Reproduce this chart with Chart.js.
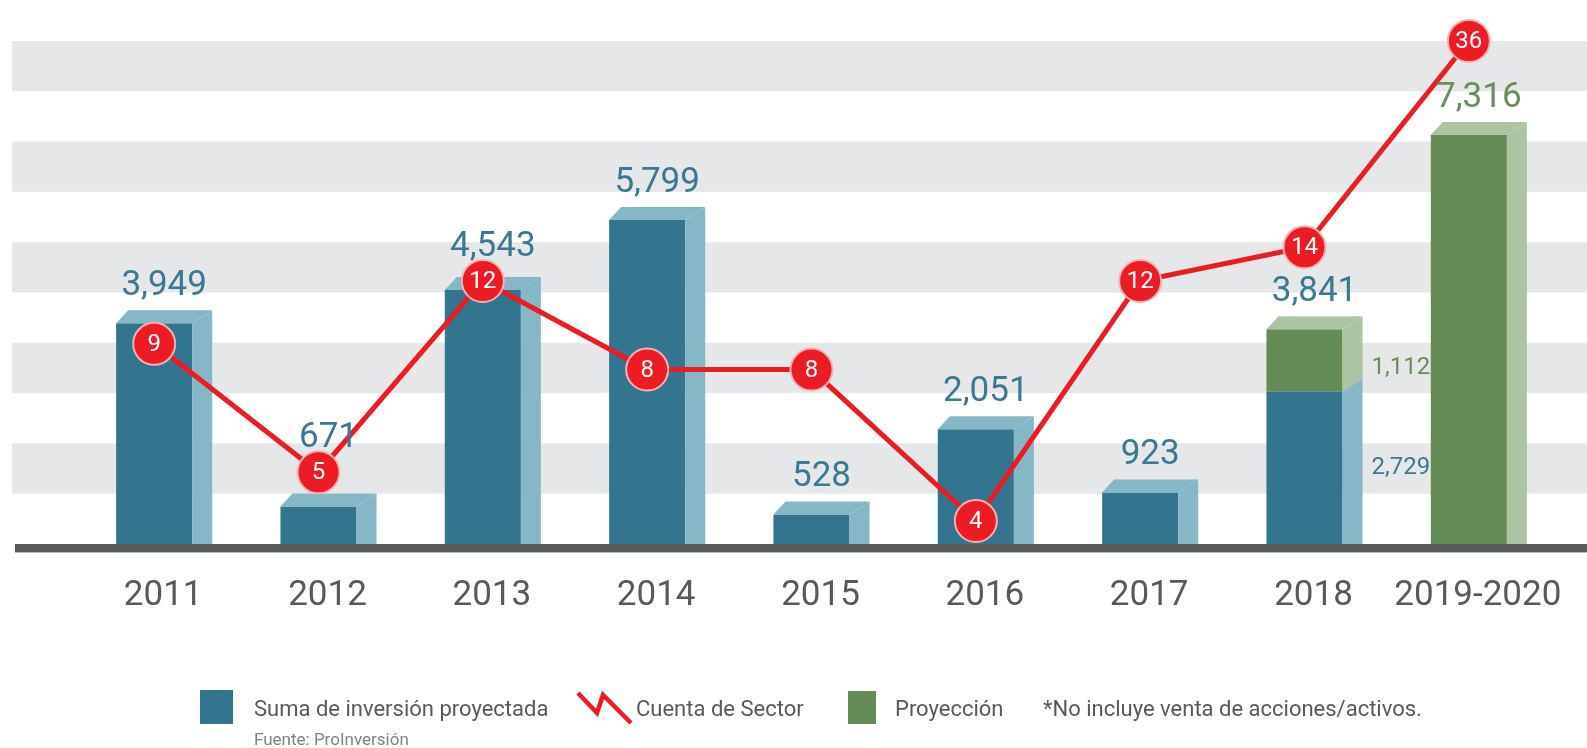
<!DOCTYPE html>
<html>
<head>
<meta charset="utf-8">
<title>Inversión proyectada y cuenta de sector</title>
<script src="https://cdn.jsdelivr.net/npm/chart.js@4.4.0/dist/chart.umd.min.js"></script>
<style>
  html, body { margin: 0; padding: 0; background: #fff; }
  #wrap { position: relative; width: 1587px; height: 748px; overflow: hidden; font-family: Roboto, sans-serif; }
  #chart { position: absolute; left: 0; top: 0; }
  .lg { position: absolute; top: 698px; color: #58595b; font-size: 22px; white-space: nowrap; line-height: 1; }
  .box { position: absolute; }
  .src { position: absolute; color: #808285; font-size: 17px; white-space: nowrap; line-height: 1; }
</style>
</head>
<body>
<div id="wrap">
  <canvas id="chart" width="1587" height="748"></canvas>
  <div class="box" style="left:200px;top:690px;width:33px;height:34px;background:#33748f"></div>
  <div class="lg" style="left:254px">Suma de inversión proyectada</div>
  <div class="src" style="left:254px;top:731px">Fuente: ProInversión</div>
  <svg class="box" style="left:570px;top:686px" width="70" height="46">
    <polyline points="8,7 27,27 33,9 61,37" fill="none" stroke="#ed1c24" stroke-width="4.5"/>
  </svg>
  <div class="lg" style="left:636px">Cuenta de Sector</div>
  <div class="box" style="left:848px;top:691px;width:28px;height:33px;background:#658c57"></div>
  <div class="lg" style="left:895px">Proyección</div>
  <div class="lg" style="left:1043px">*No incluye venta de acciones/activos.</div>
</div>
<script>
// Data
const years = ['2011', '2012', '2013', '2014', '2015', '2016', '2017', '2018', '2019-2020'];
const investment = [3949, 671, 4543, 5799, 528, 2051, 923, 2729, null];
const projection = [null, null, null, null, null, null, null, 1112, 7316];
const sectorCount = [9, 5, 12, 8, 8, 4, 12, 14, 36];

// Colours
const BLUE = '#33748f', BLUE_SIDE = '#86b7c6', BLUE_TEXT = '#3a7894';
const GREEN = '#658c57', GREEN_SIDE = '#adc4a3', GREEN_TEXT = '#688f5a';
const RED = '#ed1c24';
const GREY_TEXT = '#58595b';

// 3D look of bars
const DX = 20, DY = 13, TOP_INSET = 12;
const POINT_R = 21;

const fmt = (v) => v.toLocaleString('en-US');

// grey stripes + thick base line
const backdrop = {
    id: 'backdrop',
    beforeDatasetsDraw(chart) {
        const ctx = chart.ctx;
        const ys = chart.scales.y;
        const step = 900;
        ctx.save();
        ctx.fillStyle = '#e6e7e8';
        for (let v = step; v < ys.max; v += step * 2) {
            const yA = ys.getPixelForValue(v);
            const yB = ys.getPixelForValue(v + step);
            ctx.fillRect(12, yB, chart.width - 12, yA - yB);
        }
        const base = ys.getPixelForValue(0);
        ctx.fillStyle = '#58595b';
        ctx.fillRect(15, base, chart.width - 15, 8);
        ctx.fillStyle = '#b9babc';
        ctx.fillRect(15, base + 8, chart.width - 15, 1);
        ctx.restore();
    }
};

// side and top faces of bars
const bar3d = {
    id: 'bar3d',
    afterDatasetDraw(chart, args) {
        if (args.meta.type !== 'bar') return;
        const ctx = chart.ctx;
        const ds = chart.data.datasets[args.index];
        const base = chart.scales.y.getPixelForValue(0);
        ctx.save();
        ctx.fillStyle = ds.sideColor;
        args.meta.data.forEach((bar, i) => {
            if (ds.data[i] == null) return;
            const p = bar.getProps(['x', 'y', 'base', 'width'], true);
            const x0 = p.x - p.width / 2;
            const x1 = p.x + p.width / 2;
            const top = Math.min(p.y, p.base);
            const bottom = Math.max(p.y, p.base);
            const isBottom = Math.abs(bottom - base) < 1;
            const isTop = chart.data.datasets.every((d, j) =>
                d.type === 'line' || d.order <= ds.order || d.data[i] == null);

            ctx.beginPath();
            ctx.moveTo(x1, top);
            ctx.lineTo(x1 + DX, top - DY);
            ctx.lineTo(x1 + DX, isBottom ? bottom : bottom - DY);
            ctx.lineTo(x1, bottom);
            ctx.closePath();
            ctx.fill();

            if (isTop) {
                ctx.beginPath();
                ctx.moveTo(x0, top);
                ctx.lineTo(x0 + TOP_INSET, top - DY);
                ctx.lineTo(x1 + DX, top - DY);
                ctx.lineTo(x1, top);
                ctx.closePath();
                ctx.fill();
            }
        });
        ctx.restore();
    }
};

// value labels
const valueLabels = {
    id: 'valueLabels',
    afterDatasetsDraw(chart) {
        const ctx = chart.ctx;
        const ys = chart.scales.y;
        const xs = chart.scales.x;
        const invMeta = chart.getDatasetMeta(1);
        const lineMeta = chart.getDatasetMeta(0);
        ctx.save();
        years.forEach((yr, i) => {
            const inv = investment[i] || 0;
            const proj = projection[i] || 0;
            const total = inv + proj;
            const cx = xs.getPixelForValue(i);
            const top = ys.getPixelForValue(total) - DY;
            let yText = top - 15;
            // keep the label clear of the red marker
            const cy = lineMeta.data[i].y;
            if (cy + POINT_R > yText - 26 && cy - POINT_R < yText + 2) {
                yText = cy - POINT_R - 4;
            }
            ctx.font = '35px Roboto';
            ctx.textAlign = 'center';
            ctx.textBaseline = 'alphabetic';
            ctx.fillStyle = investment[i] == null ? GREEN_TEXT : BLUE_TEXT;
            ctx.fillText(fmt(total), cx + DX / 2, yText);

            if (investment[i] != null && projection[i] != null) {
                const w = invMeta.data[i].width;
                const xl = cx + w / 2 + DX + 9;
                const yInv = ys.getPixelForValue(inv);
                const yBase = ys.getPixelForValue(0);
                const yTot = ys.getPixelForValue(total);
                ctx.font = '24px Roboto';
                ctx.textAlign = 'left';
                ctx.textBaseline = 'middle';
                ctx.fillStyle = GREEN_TEXT;
                ctx.fillText(fmt(projection[i]), xl, (yInv + yTot) / 2 + 8);
                ctx.fillStyle = BLUE_TEXT;
                ctx.fillText(fmt(investment[i]), xl, (yInv + yBase) / 2);
            }
        });

        // numbers in the red circles
        ctx.font = '24px Roboto';
        ctx.textAlign = 'center';
        ctx.textBaseline = 'middle';
        ctx.fillStyle = '#fff';
        lineMeta.data.forEach((pt, i) => {
            ctx.fillText(String(sectorCount[i]), pt.x, pt.y + 1);
        });
        ctx.restore();
    }
};

new Chart(document.getElementById('chart').getContext('2d'), {
    data: {
        labels: years,
        datasets: [
            {
                type: 'line',
                label: 'Cuenta de Sector',
                data: sectorCount,
                yAxisID: 'y2',
                order: 0,
                borderColor: RED,
                borderWidth: 5,
                tension: 0,
                clip: false,
                pointRadius: POINT_R,
                pointBackgroundColor: RED,
                pointBorderColor: '#f6b2b4',
                pointBorderWidth: 2
            },
            {
                type: 'bar',
                label: 'Suma de inversión proyectada',
                data: investment,
                yAxisID: 'y',
                order: 1,
                backgroundColor: BLUE,
                sideColor: BLUE_SIDE,
                barPercentage: 0.463,
                categoryPercentage: 1
            },
            {
                type: 'bar',
                label: 'Proyección',
                data: projection,
                yAxisID: 'y',
                order: 2,
                backgroundColor: GREEN,
                sideColor: GREEN_SIDE,
                barPercentage: 0.463,
                categoryPercentage: 1
            }
        ]
    },
    options: {
        responsive: false,
        animation: false,
        layout: { padding: { left: 72, right: 36, top: 41, bottom: 108 } },
        plugins: {
            legend: { display: false },
            tooltip: { enabled: false }
        },
        scales: {
            x: {
                stacked: true,
                offset: true,
                grid: { display: false },
                border: { display: false },
                ticks: {
                    font: { family: 'Roboto', size: 35 },
                    color: GREY_TEXT,
                    padding: 23,
                    labelOffset: 9,
                    maxRotation: 0,
                    autoSkip: false
                }
            },
            y: {
                stacked: true,
                display: false,
                min: 0,
                max: 9000,
                ticks: { stepSize: 900 }
            },
            y2: {
                type: 'logarithmic',
                display: false,
                min: 3.6,
                max: 36
            }
        }
    },
    plugins: [backdrop, bar3d, valueLabels]
});
</script>
</body>
</html>
